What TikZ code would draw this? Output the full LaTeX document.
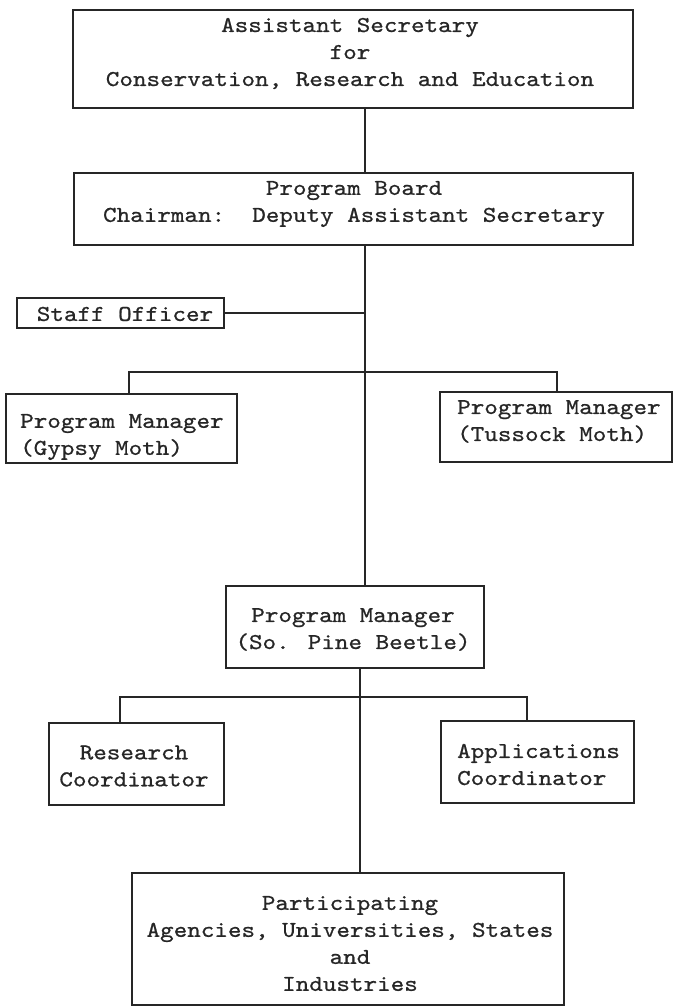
\documentclass[tikz,border=0pt]{standalone}
\usepackage{fontspec}
\newfontfamily\tw[FakeStretch=1.143,FakeBold=0.8]{lmmono10-regular.otf}
\begin{document}
\begin{tikzpicture}[x=1pt,y=-1pt,
  orgbox/.style={draw=black!85, line width=1.6pt, inner sep=0pt, rectangle},
  orgtext/.style={font=\tw\fontsize{22.6}{27}\selectfont, align=center, inner sep=0pt, text=black!85},
  orgleft/.style={orgtext, align=left, anchor=west},
  link/.style={draw=black!85, line width=1.2pt}]
\useasboundingbox (0,0) rectangle (673,1008);

% boxes
\node[orgbox, minimum width=560pt, minimum height=98pt] (asec) at (353,59) {};
\node[orgbox, minimum width=559pt, minimum height=72pt] (board) at (353.5,209) {};
\node[orgbox, minimum width=207pt, minimum height=30pt] (staff) at (120.5,313) {};
\node[orgbox, minimum width=231pt, minimum height=69pt] (gypsy) at (121.5,428.5) {};
\node[orgbox, minimum width=232pt, minimum height=70pt] (tussock) at (556,427) {};
\node[orgbox, minimum width=258pt, minimum height=82pt] (pine) at (355,627) {};
\node[orgbox, minimum width=175pt, minimum height=82pt] (research) at (136.5,764) {};
\node[orgbox, minimum width=193pt, minimum height=82pt] (apps) at (537.5,762) {};
\node[orgbox, minimum width=432pt, minimum height=132pt] (part) at (348,939) {};

% box texts
\node[orgtext] (asec-t) at (350,53.5) {Assistant Secretary\\for\\Conservation, Research and Education};
\node[orgtext] (board-t) at (354,204) {Program Board\\Chairman:\ \ Deputy Assistant Secretary};
\node[orgtext] (staff-t) at (125,314) {Staff Officer};
\node[orgleft] (gypsy-t) at (20,437) {Program Manager\\(Gypsy Moth)};
\node[orgleft] (tussock-t) at (457,421.5) {Program Manager\\(Tussock Moth)};
\node[orgtext] (pine-t) at (353,629.5) {Program Manager\\(So. Pine Beetle)};
\node[orgtext] (research-t) at (134,766) {Research\\Coordinator};
\node[orgleft] (apps-t) at (457,764.5) {Applications\\Coordinator};
\node[orgtext] (part-t) at (350,943.5) {Participating\\Agencies, Universities, States\\and\\Industries};

% junctions
\coordinate (upper) at (365,372);
\coordinate (gl) at (129,372);
\coordinate (tr) at (557,372);
\coordinate (lower) at (360,697);
\coordinate (rl) at (120,697);
\coordinate (ar) at (527,697);

% connectors
\draw[link] (asec.south -| upper) -- (board.north -| upper);
\draw[link] (board.south -| upper) -- (pine.north -| upper);
\draw[link] (staff.east) -- (staff.east -| upper);
\draw[link] (gypsy.north -| gl) -- (gl) -- (tr) -- (tussock.north -| tr);
\draw[link] (pine.south -| lower) -- (part.north -| lower);
\draw[link] (research.north -| rl) -- (rl) -- (ar) -- (apps.north -| ar);
\end{tikzpicture}
\end{document}
